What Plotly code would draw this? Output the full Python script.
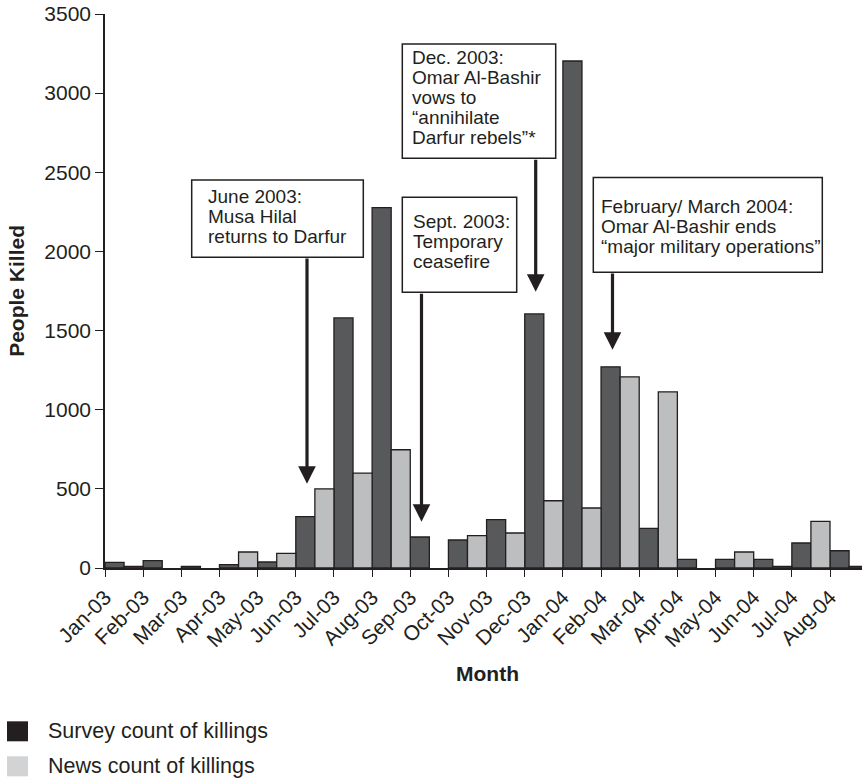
import plotly.graph_objects as go

# ---------------- data ----------------
months = ["Jan-03", "Feb-03", "Mar-03", "Apr-03", "May-03", "Jun-03", "Jul-03",
          "Aug-03", "Sep-03", "Oct-03", "Nov-03", "Dec-03", "Jan-04", "Feb-04",
          "Mar-04", "Apr-04", "May-04", "Jun-04", "Jul-04", "Aug-04"]
# survey count (dark bars), first half-slot of each month
survey_count = [35, 46, 10, 21, 38, 324, 1580, 2277, 196, 177, 305, 1605,
                3203, 1271, 250, 54, 54, 54, 158, 109]
# survey count drawn in the second half-slot of a month
survey_count_late = [10, None, None, None, None, None, None, None, None, None,
                     None, None, None, None, None, None, None, 10, None, 10]
# news count (light bars), second half-slot of each month
news_count = [None, None, None, 101, 92, 500, 600, 747, None, 204, 221, 425,
              379, 1208, 1113, None, 101, None, 294, None]
y_ticks = [0, 500, 1000, 1500, 2000, 2500, 3000, 3500]

events = [
    ["June 2003:", "Musa Hilal", "returns to Darfur"],
    ["Sept. 2003:", "Temporary", "ceasefire"],
    ["Dec. 2003:", "Omar Al-Bashir", "vows to", "\u201cannihilate", "Darfur rebels\u201d*"],
    ["February/ March 2004:", "Omar Al-Bashir ends", "\u201cmajor military operations\u201d"],
]

# ---------------- layout geometry (window pixels) ----------------
W, H = 862, 781
PLOT_L, PLOT_R, PLOT_T, PLOT_B = 105, 862, 14, 568.3
ML, MT, MR, MB = PLOT_L, PLOT_T, W - PLOT_R, H - PLOT_B
PW = W - ML - MR
PH = H - MT - MB
FONT = "Liberation Sans, Arial, Helvetica, sans-serif"
INK = "#231f20"
DARK = "#58595b"
LIGHT = "#bcbec0"


def px(x):
    return (x - PLOT_L) / PW


def py(y):
    return (PLOT_B - y) / PH


slot_w = 0.5
x_survey = [i + slot_w / 2 for i, v in enumerate(survey_count) if v is not None]
y_survey = [v for v in survey_count if v is not None]
x_survey += [i + 1.5 * slot_w for i, v in enumerate(survey_count_late) if v is not None]
y_survey += [v for v in survey_count_late if v is not None]
x_news = [i + 1.5 * slot_w for i, v in enumerate(news_count) if v is not None]
y_news = [v for v in news_count if v is not None]

fig = go.Figure()
fig.add_trace(go.Bar(x=x_survey, y=y_survey, width=slot_w, name="Survey count of killings",
                     marker=dict(color=DARK, line=dict(color=INK, width=1.3)),
                     showlegend=False))
fig.add_trace(go.Bar(x=x_news, y=y_news, width=slot_w, name="News count of killings",
                     marker=dict(color=LIGHT, line=dict(color=INK, width=1.3)),
                     showlegend=False))

month_px = (830 - 105) / 19
x_max = (PLOT_R - PLOT_L) / month_px

fig.update_layout(
    width=W, height=H,
    margin=dict(l=ML, r=MR, t=MT, b=MB, pad=0, autoexpand=False),
    paper_bgcolor="white", plot_bgcolor="white",
    barmode="overlay",
    font=dict(family=FONT, color=INK, size=20.5),
    xaxis=dict(range=[0, x_max], tickvals=list(range(len(months))), ticktext=months,
               tickangle=-45, ticks="outside", ticklen=7, tickwidth=1.3, tickcolor=INK,
               showline=True, linecolor=INK, linewidth=1.5, showgrid=False, zeroline=False,
               ticklabeloverflow="allow", automargin=False,
               tickfont=dict(size=21, color=INK, family=FONT)),
    yaxis=dict(range=[0, 3500], tickvals=y_ticks, ticks="outside", ticklen=8, tickwidth=1.3,
               tickcolor=INK, showline=True, linecolor=INK, linewidth=1.5, showgrid=False,
               zeroline=False, ticklabeloverflow="allow", automargin=False,
               tickfont=dict(size=21, color=INK, family=FONT)),
)

annotations = []
shapes = []

# axis titles
annotations.append(dict(text="<b>People Killed</b>", xref="paper", yref="paper",
                        x=px(16.5), y=py(291.5), textangle=-90, showarrow=False,
                        xanchor="center", yanchor="middle", font=dict(size=21)))
annotations.append(dict(text="<b>Month</b>", xref="paper", yref="paper",
                        x=px(487), y=py(674), showarrow=False,
                        xanchor="center", yanchor="middle", font=dict(size=21)))

# event boxes: (left, top, right, bottom, text_left, first_baseline) in window pixels
boxes = [
    (191.7, 180.0, 363.3, 257.3, 206.7, 203.3),
    (402.3, 197.3, 516.7, 292.5, 411.5, 228.3),
    (402.3, 44.0, 555.7, 158.3, 410.7, 64.3),
    (593.3, 177.7, 822.3, 272.3, 600.0, 213.3),
]
FS_EV = 19
LINE = 20
for (l, t, r, b, tx, base), lines in zip(boxes, events):
    shapes.append(dict(type="rect", xref="paper", yref="paper", x0=px(l), x1=px(r),
                       y0=py(b), y1=py(t), line=dict(color=INK, width=1.5),
                       fillcolor="white", layer="above"))
    for j, ln in enumerate(lines):
        annotations.append(dict(text=ln, xref="paper", yref="paper", x=px(tx),
                                y=py(base + j * LINE - 0.35 * FS_EV), showarrow=False,
                                xanchor="left", yanchor="middle",
                                font=dict(size=FS_EV, color=INK), borderpad=0))

# arrows: (x, tail_y, tip_y) in window pixels
arrows = [(307, 257.3, 484), (421.5, 292.5, 522), (535.7, 158.3, 292), (612.5, 272.3, 350)]
for ax_, ty, tip in arrows:
    annotations.append(dict(text="", xref="paper", yref="paper", x=px(ax_), y=py(tip),
                            ax=0, ay=-(tip - ty), showarrow=True, arrowhead=2,
                            arrowsize=1.1, arrowwidth=3.2, arrowcolor=INK, standoff=0))

# legend
legend_items = [("Survey count of killings", INK, 721.7), ("News count of killings", "#d1d3d4", 756.7)]
for label, col, top in legend_items:
    shapes.append(dict(type="rect", xref="paper", yref="paper", x0=px(7), x1=px(28),
                       y0=py(top + 20), y1=py(top), line=dict(width=0), fillcolor=col))
    annotations.append(dict(text=label, xref="paper", yref="paper", x=px(46),
                            y=py(top + 10), showarrow=False, xanchor="left",
                            yanchor="middle", font=dict(size=21.5, color=INK)))

fig.update_layout(annotations=annotations, shapes=shapes)
fig.write_html("out.html", config={"displayModeBar": False},
               post_script="document.body.style.margin='0';document.body.style.overflow='hidden';")
